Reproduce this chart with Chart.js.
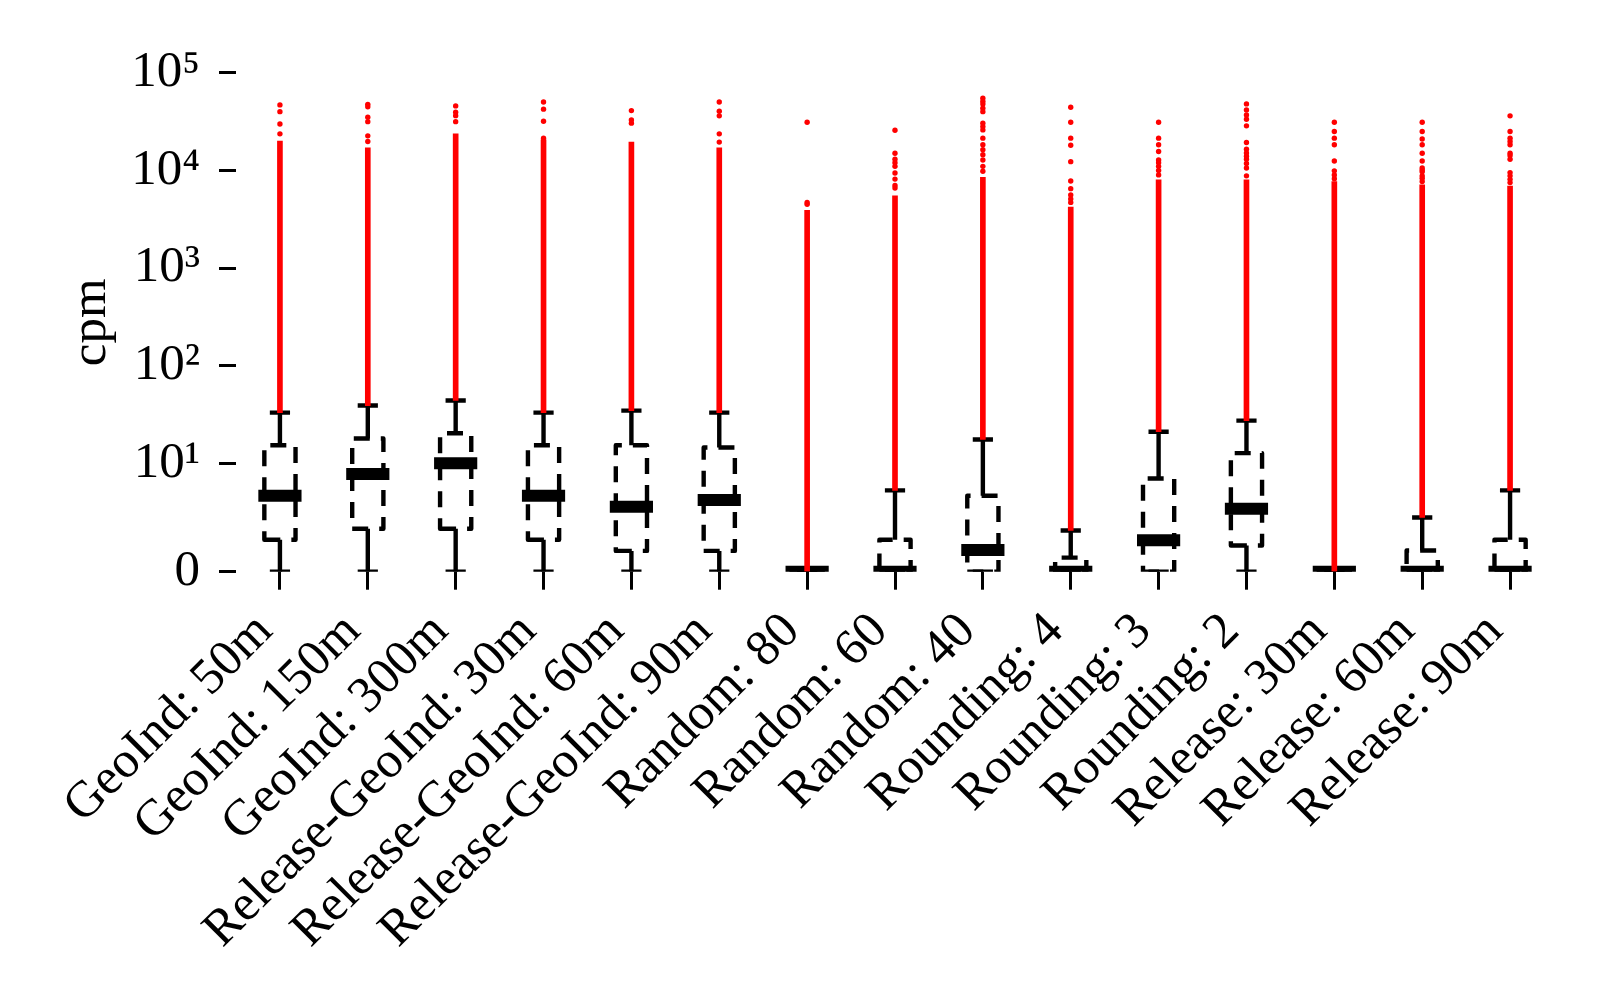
<!DOCTYPE html>
<html>
<head>
<meta charset="utf-8">
<script src="https://cdn.jsdelivr.net/npm/chart.js@4.4.1/dist/chart.umd.min.js"></script>
<style>
  html, body { margin: 0; padding: 0; background: #ffffff; }
  #wrap { width: 1620px; height: 1007px; }
</style>
</head>
<body>
<div id="wrap"><canvas id="c" width="1620" height="1007"></canvas></div>
<script>
// ---------------- data ----------------
const categories = ['GeoInd: 50m', 'GeoInd: 150m', 'GeoInd: 300m',
  'Release-GeoInd: 30m', 'Release-GeoInd: 60m', 'Release-GeoInd: 90m',
  'Random: 80', 'Random: 60', 'Random: 40',
  'Rounding: 4', 'Rounding: 3', 'Rounding: 2',
  'Release: 30m', 'Release: 60m', 'Release: 90m'];

const whiskerLow  = [0, 0, 0, 0, 0, 0, 0, 0, 0, 0, 0, 0, 0, 0, 0];
const q1          = [2.94, 3.96, 3.96, 2.94, 1.92, 1.92, 0, 0, 0, 0, 0, 2.41, 0, 0, 0];
const medians     = [7.0, 9.0, 10.0, 7.0, 6.0, 6.6, 0, 0, 2.0, 0, 2.9, 5.8, 0, 0, 0];
const q3          = [15.3, 17.9, 20.3, 15.3, 15.3, 14.5, 0, 2.94, 7.0, 1.3, 8.6, 12.7, 0, 1.95, 2.94];
const whiskerHigh = [33, 39, 44, 33, 34.6, 33, 0, 7.5, 17.5, 3.8, 21, 27.3, 0, 5.0, 7.5];
// upper end of the dense (continuous-looking) run of outliers
const denseTop    = [20000, 17000, 23700, 20600, 19500, 17000, 3900, 5500, 8500, 4200, 8000, 8000, 7700, 7100, 6900];
// isolated outliers above the dense run
const outliers = [
  [23700, 29900, 40000, 46900],
  [19800, 22600, 31600, 35100, 44900, 47500],
  [31600, 36400, 39500, 45800],
  [21400, 31900, 42400, 50300],
  [30500, 32800, 41000],
  [19500, 23700, 36200, 40400, 50300],
  [4500, 4700, 31200],
  [6600, 7000, 8150, 9400, 11000, 12000, 13000, 15000, 25800],
  [9800, 11000, 12800, 14500, 16300, 18300, 21400, 26000, 28100, 30500, 40000, 43400, 48000, 51000, 54800],
  [4700, 5100, 5600, 6500, 7800, 12300, 18100, 21400, 31200, 44400],
  [9000, 10000, 11000, 12000, 12800, 15600, 18300, 21400, 31200],
  [8800, 10600, 11800, 13000, 14000, 15100, 16500, 19300, 28600, 33400, 37000, 41700, 48000],
  [8200, 9000, 9900, 12500, 18300, 21400, 25000, 31200],
  [7700, 8300, 8800, 9700, 10100, 10600, 12500, 15000, 18300, 21000, 25000, 31200],
  [7500, 8100, 8800, 9500, 13000, 14200, 15000, 18300, 19800, 21400, 25000, 36200]
];

const yTickValues = [0, 10, 100, 1000, 10000, 100000];
const yTickLabels = ['0', '10\u00B9', '10\u00B2', '10\u00B3', '10\u2074', '10\u2075'];
const yTitle = 'cpm';

// ---------------- symlog scale (linthresh 10, linscale 1) ----------------
const LIN_T = 10;
const LIN_S = 1 / (1 - 1 / 10);
function symT(v) {
  const a = Math.abs(v), s = v < 0 ? -1 : 1;
  return a <= LIN_T ? v / LIN_T * LIN_S : s * (LIN_S + Math.log10(a / LIN_T));
}
function symInv(t) {
  const a = Math.abs(t), s = t < 0 ? -1 : 1;
  return a <= LIN_S ? t * LIN_T / LIN_S : s * LIN_T * Math.pow(10, a - LIN_S);
}
class SymlogScale extends Chart.LinearScale {
  buildTicks() { return yTickValues.map(v => ({ value: v })); }
  configure() {
    super.configure();
    this._tMin = symT(this.min);
    this._tMax = symT(this.max);
  }
  getPixelForValue(v) {
    return this.getPixelForDecimal((symT(v) - this._tMin) / (this._tMax - this._tMin));
  }
  getValueForPixel(p) {
    return symInv(this._tMin + this.getDecimalForPixel(p) * (this._tMax - this._tMin));
  }
}
SymlogScale.id = 'symlog';
SymlogScale.defaults = Chart.LinearScale.defaults;
Chart.register(SymlogScale);

// ---------------- box / whisker / median drawing through the scales ----------------
const boxPlugin = {
  id: 'boxDraw',
  beforeDatasetsDraw(chart) {
    const { ctx, chartArea, scales: { x, y } } = chart;
    const step = x.getPixelForValue(1) - x.getPixelForValue(0);
    const bw = step * 0.355;
    const cw = step * 0.115;
    const seg = (x1, y1, x2, y2) => { ctx.beginPath(); ctx.moveTo(x1, y1); ctx.lineTo(x2, y2); ctx.stroke(); };
    ctx.save();
    ctx.beginPath();
    ctx.rect(chartArea.left, chartArea.top, chartArea.right - chartArea.left, chartArea.bottom - chartArea.top);
    ctx.clip();
    ctx.strokeStyle = '#000000';
    categories.forEach((c, i) => {
      const cx = x.getPixelForValue(i);
      const pLo = y.getPixelForValue(whiskerLow[i]);
      const pQ1 = y.getPixelForValue(q1[i]);
      const pMed = y.getPixelForValue(medians[i]);
      const pQ3 = y.getPixelForValue(q3[i]);
      const pHi = y.getPixelForValue(whiskerHigh[i]);
      // whiskers + caps
      ctx.setLineDash([]);
      ctx.lineWidth = 4.4;
      ctx.lineCap = 'butt';
      seg(cx, pQ3, cx, pHi);
      seg(cx, pQ1, cx, pLo);
      seg(cx - cw, pHi, cx + cw, pHi);
      seg(cx - cw, pLo, cx + cw, pLo);
      // dashed box
      ctx.setLineDash([16, 11]);
      ctx.lineJoin = 'round';
      ctx.beginPath();
      ctx.moveTo(cx - bw / 2, pQ1);
      ctx.lineTo(cx + bw / 2, pQ1);
      ctx.lineTo(cx + bw / 2, pQ3);
      ctx.lineTo(cx - bw / 2, pQ3);
      ctx.closePath();
      ctx.stroke();
      // median
      ctx.setLineDash([]);
      ctx.lineWidth = 12;
      ctx.lineCap = 'square';
      seg(cx - bw / 2, pMed, cx + bw / 2, pMed);
    });
    ctx.restore();
  }
};

// ---------------- chart ----------------
const FONT = '"Liberation Serif", "Times New Roman", serif';
const FS = 51;

const outlierPoints = [];
categories.forEach((c, i) => outliers[i].forEach(v => outlierPoints.push({ x: c, y: v })));

new Chart(document.getElementById('c'), {
  type: 'bar',
  data: {
    labels: categories,
    datasets: [
      {
        type: 'scatter',
        label: 'outliers',
        data: outlierPoints,
        pointRadius: 2.7,
        pointBorderWidth: 0,
        pointBackgroundColor: '#ff0000',
        backgroundColor: '#ff0000',
        borderColor: '#ff0000',
        order: 0
      },
      {
        type: 'bar',
        label: 'outlier run',
        data: categories.map((c, i) => [whiskerHigh[i], denseTop[i]]),
        backgroundColor: '#ff0000',
        borderWidth: 0,
        borderSkipped: false,
        barThickness: 5,
        grouped: false,
        order: 1
      }
    ]
  },
  options: {
    responsive: false,
    animation: false,
    events: [],
    layout: { padding: { top: 72.8, right: 66, bottom: 0, left: 0 } },
    plugins: { legend: { display: false }, tooltip: { enabled: false } },
    scales: {
      x: {
        type: 'category',
        offset: true,
        border: { display: false },
        grid: { offset: false, drawOnChartArea: false, drawTicks: true, tickLength: 18, tickWidth: 3, tickColor: '#000000' },
        ticks: {
          autoSkip: false, maxRotation: 45, minRotation: 45, padding: 12, labelOffset: -15,
          color: '#000000', font: { family: FONT, size: FS }
        },
        afterFit(scale) { scale.height = 1007 - 571.7; }
      },
      y: {
        type: 'symlog',
        min: 0,
        max: 100000,
        border: { display: false },
        grid: { drawOnChartArea: false, drawTicks: true, tickLength: 17, tickWidth: 3, tickColor: '#000000' },
        ticks: {
          padding: 19, color: '#000000', font: { family: FONT, size: FS },
          callback: (v) => { const k = yTickValues.indexOf(v); return k >= 0 ? yTickLabels[k] : ''; }
        },
        title: { display: true, text: yTitle, color: '#000000', font: { family: FONT, size: FS }, padding: { top: 61, bottom: 0 } },
        afterFit(scale) { scale.width = 236; }
      }
    }
  },
  plugins: [boxPlugin]
});
</script>
</body>
</html>
